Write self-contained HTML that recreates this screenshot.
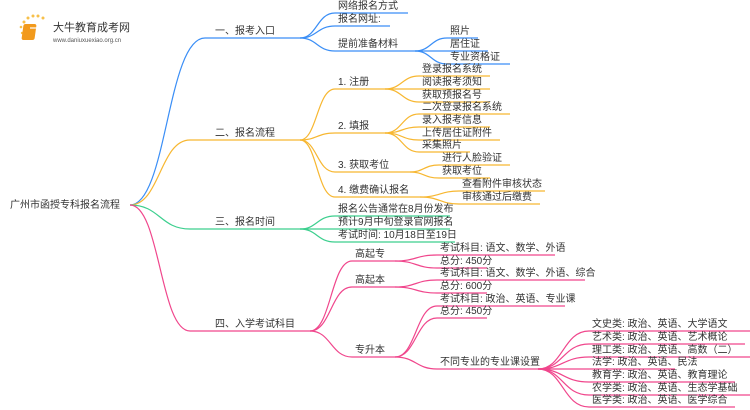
<!DOCTYPE html>
<html><head><meta charset="utf-8"><style>
html,body{margin:0;padding:0;background:#fff;width:750px;height:410px;overflow:hidden}
svg text{font-family:"Liberation Sans","Noto Sans CJK SC",sans-serif;font-size:10px;fill:#333;transform:translateY(-1px)}
path{fill:none;stroke-width:1.2}
.b{stroke:#3a8ef6}.o{stroke:#f7b731}.g{stroke:#3ccf8e}.p{stroke:#f0468c}
</style></head><body>
<svg width="750" height="410" viewBox="0 0 750 410" xmlns="http://www.w3.org/2000/svg">
<g>
<circle cx="24" cy="22" r="1.5" fill="#f7c04a"/><circle cx="28" cy="18" r="1.5" fill="#f7c04a"/><circle cx="33" cy="16" r="1.5" fill="#f7c04a"/><circle cx="38" cy="16" r="1.5" fill="#f7c04a"/><circle cx="43" cy="18" r="1.5" fill="#f7c04a"/><circle cx="21" cy="27" r="1.3" fill="#f7c04a"/><circle cx="22" cy="33" r="1.2" fill="#f7c04a"/>
<rect x="27" y="24" width="13" height="16" rx="2" fill="#f29a1c" transform="skewX(-8)"/>
<rect x="30" y="27" width="8" height="2" fill="#fff" opacity=".6"/>
<text x="53" y="32" style="font-size:11px;fill:#333">大牛教育成考网</text>
<text x="53" y="43" style="font-size:6px;fill:#555">www.daniuxuexiao.org.cn</text>
</g>
<text x="10" y="209">广州市函授专科报名流程</text>
<path class="b" d="M130 205 C167 205,167 38,205 38 H300"/>
<path class="b" d="M300 38 C317 38,317 13,335 13 H408"/>
<path class="b" d="M300 38 C317 38,317 26,335 26 H390"/>
<path class="b" d="M300 38 C317 38,317 51,335 51 H415"/>
<path class="b" d="M415 51 C431 51,431 38,447 38 H478"/>
<path class="b" d="M415 51 C431 51,431 51,447 51 H488"/>
<path class="b" d="M415 51 C431 51,431 64,447 64 H510"/>
<text x="215" y="35">一、报考入口</text>
<text x="338" y="10">网络报名方式</text>
<text x="338" y="23">报名网址:</text>
<text x="338" y="48">提前准备材料</text>
<text x="450" y="35">照片</text>
<text x="450" y="48">居住证</text>
<text x="450" y="61">专业资格证</text>
<path class="o" d="M130 205 C160 205,160 140,190 140 H300"/>
<path class="o" d="M300 140 C317 140,317 89,335 89 H385"/>
<path class="o" d="M385 89 C402 89,402 76,419 76 H490"/>
<path class="o" d="M385 89 C402 89,402 89,419 89 H490"/>
<path class="o" d="M385 89 C402 89,402 102,419 102 H490"/>
<path class="o" d="M300 140 C317 140,317 133,335 133 H385"/>
<path class="o" d="M385 133 C402 133,402 114,419 114 H510"/>
<path class="o" d="M385 133 C402 133,402 127,419 127 H490"/>
<path class="o" d="M385 133 C402 133,402 140,419 140 H500"/>
<path class="o" d="M385 133 C402 133,402 152,419 152 H470"/>
<path class="o" d="M300 140 C317 140,317 172,335 172 H410"/>
<path class="o" d="M410 172 C424 172,424 165,439 165 H510"/>
<path class="o" d="M410 172 C424 172,424 178,439 178 H490"/>
<path class="o" d="M300 140 C317 140,317 197,335 197 H420"/>
<path class="o" d="M420 197 C440 197,440 191,459 191 H545"/>
<path class="o" d="M420 197 C440 197,440 204,459 204 H540"/>
<text x="215" y="137">二、报名流程</text>
<text x="338" y="86">1. 注册</text>
<text x="422" y="73">登录报名系统</text>
<text x="422" y="86">阅读报考须知</text>
<text x="422" y="99">获取预报名号</text>
<text x="338" y="130">2. 填报</text>
<text x="422" y="111">二次登录报名系统</text>
<text x="422" y="124">录入报考信息</text>
<text x="422" y="137">上传居住证附件</text>
<text x="422" y="149">采集照片</text>
<text x="338" y="169">3. 获取考位</text>
<text x="442" y="162">进行人脸验证</text>
<text x="442" y="175">获取考位</text>
<text x="338" y="194">4. 缴费确认报名</text>
<text x="462" y="188">查看附件审核状态</text>
<text x="462" y="201">审核通过后缴费</text>
<path class="g" d="M130 205 C160 205,160 229,190 229 H300"/>
<path class="g" d="M300 229 C317 229,317 216,335 216 H450"/>
<path class="g" d="M300 229 C317 229,317 229,335 229 H450"/>
<path class="g" d="M300 229 C317 229,317 242,335 242 H455"/>
<text x="215" y="226">三、报名时间</text>
<text x="338" y="213">报名公告通常在8月份发布</text>
<text x="338" y="226">预计9月中旬登录官网报名</text>
<text x="338" y="239">考试时间: 10月18日至19日</text>
<path class="p" d="M130 205 C160 205,160 331,190 331 H310"/>
<path class="p" d="M310 331 C331 331,331 261,352 261 H395"/>
<path class="p" d="M310 331 C331 331,331 287,352 287 H395"/>
<path class="p" d="M310 331 C331 331,331 357,352 357 H395"/>
<path class="p" d="M395 261 C416 261,416 255,437 255 H555"/>
<path class="p" d="M395 261 C416 261,416 268,437 268 H487"/>
<path class="p" d="M395 287 C416 287,416 280,437 280 H585"/>
<path class="p" d="M395 287 C416 287,416 293,437 293 H487"/>
<path class="p" d="M395 357 C416 357,416 306,437 306 H565"/>
<path class="p" d="M395 357 C416 357,416 318,437 318 H487"/>
<path class="p" d="M395 357 C416 357,416 369,437 369 H538"/>
<path class="p" d="M538 369 C563 369,563 331,589 331 H750"/>
<path class="p" d="M538 369 C563 369,563 344,589 344 H745"/>
<path class="p" d="M538 369 C563 369,563 357,589 357 H750"/>
<path class="p" d="M538 369 C563 369,563 369,589 369 H675"/>
<path class="p" d="M538 369 C563 369,563 382,589 382 H735"/>
<path class="p" d="M538 369 C563 369,563 395,589 395 H750"/>
<path class="p" d="M538 369 C563 369,563 407,589 407 H735"/>
<text x="215" y="328">四、入学考试科目</text>
<text x="355" y="258">高起专</text>
<text x="355" y="284">高起本</text>
<text x="355" y="354">专升本</text>
<text x="440" y="252">考试科目: 语文、数学、外语</text>
<text x="440" y="265">总分: 450分</text>
<text x="440" y="277">考试科目: 语文、数学、外语、综合</text>
<text x="440" y="290">总分: 600分</text>
<text x="440" y="303">考试科目: 政治、英语、专业课</text>
<text x="440" y="315">总分: 450分</text>
<text x="440" y="366">不同专业的专业课设置</text>
<text x="592" y="328">文史类: 政治、英语、大学语文</text>
<text x="592" y="341">艺术类: 政治、英语、艺术概论</text>
<text x="592" y="354">理工类: 政治、英语、高数（二）</text>
<text x="592" y="366">法学: 政治、英语、民法</text>
<text x="592" y="379">教育学: 政治、英语、教育理论</text>
<text x="592" y="392">农学类: 政治、英语、生态学基础</text>
<text x="592" y="404">医学类: 政治、英语、医学综合</text>
</svg>
</body></html>
